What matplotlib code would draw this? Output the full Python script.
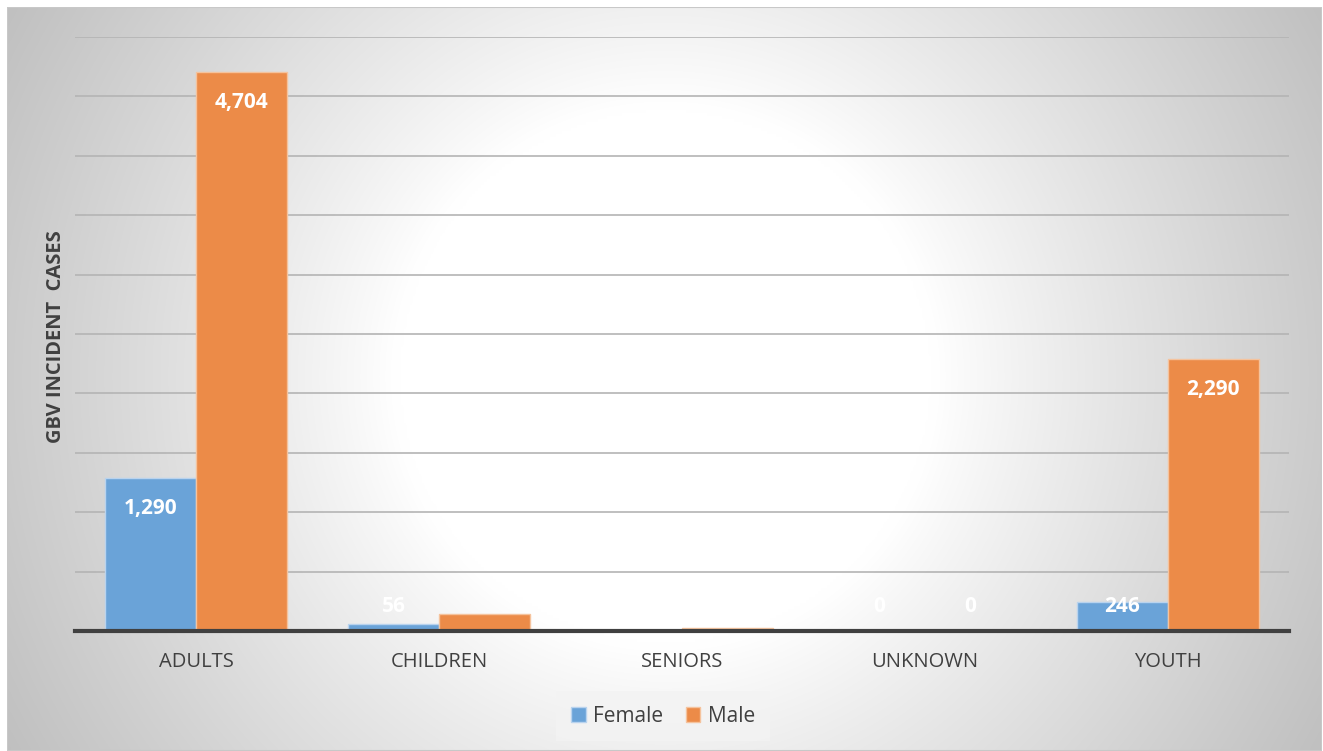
import numpy as np
import matplotlib
matplotlib.use("Agg")
import matplotlib.pyplot as plt

categories = ["ADULTS", "CHILDREN", "SENIORS", "UNKNOWN", "YOUTH"]
female = [1290, 56, 3, 0, 246]
male = [4704, 140, 25, 0, 2290]
female_labels = ["1,290", "56", "", "0", "246"]
male_labels = ["4,704", "", "", "0", "2,290"]

W, H = 1323, 751
fig = plt.figure(figsize=(W / 100, H / 100), dpi=100)
fig.patch.set_facecolor("white")

# background with radial gradient (circular in pixel space)
x0, y0 = 7, 7
bw_px, bh_px = W - 8 - x0 + 7, H - y0
bg = fig.add_axes([x0 / W, 0, (W - 1 - x0) / W, (H - y0) / H])
bg.set_axis_off()
px = np.arange(x0, W - 1, 3)
py = np.arange(y0, H, 3)
XX, YY = np.meshgrid(px, py)
d = np.sqrt((XX - 665) ** 2 + (YY - 375) ** 2)
t = np.clip((d - 270) / (760 - 270), 0, 1)
val = 1.0 - 0.25 * t ** 0.9
img = np.dstack([val, val, val])
bg.imshow(img, aspect="auto", extent=[0, 1, 0, 1], origin="upper", interpolation="bicubic")
bg.set_xlim(0, 1)
bg.set_ylim(0, 1)
bg.add_patch(plt.Rectangle((0, 0), 1, 1, fill=False, edgecolor="#c8c8c8", lw=1.5,
                           transform=bg.transAxes))

ax = fig.add_axes([75 / W, (H - 631) / H, (1289 - 75) / W, (631 - 37) / H])
ax.patch.set_alpha(0)
x = np.arange(len(categories))
bw = 0.375
fem_c = "#6aa3d8"
male_c = "#ec8b48"
b1 = ax.bar(x - bw / 2, female, bw, color=fem_c, edgecolor="#b9d3ee", lw=1, zorder=3)
b2 = ax.bar(x + bw / 2, male, bw, color=male_c, edgecolor="#f5c39d", lw=1, zorder=3)

ax.set_xlim(-0.5, len(categories) - 0.5)
ax.set_ylim(0, 5000)
ax.set_yticks(np.arange(500, 5001, 500))
ax.yaxis.grid(True, color="#b4b4b4", lw=1.2, zorder=0)
ax.set_yticklabels([])
ax.tick_params(axis="y", length=0)
ax.set_xticks(x)
ax.set_xticklabels(categories, fontsize=14.5, color="#404040", family="Open Sans")
ax.tick_params(axis="x", length=0, pad=15)
for s in ["top", "right", "left"]:
    ax.spines[s].set_visible(False)
ax.spines["bottom"].set_color("#404040")
ax.spines["bottom"].set_linewidth(3)
ax.spines["bottom"].set_zorder(4)

ax.set_ylabel("GBV INCIDENT  CASES", fontsize=14.5, fontweight="bold", color="#404040",
              family="Open Sans")
ax.yaxis.set_label_coords(-0.0075, 0.495)

for i in range(len(categories)):
    if female_labels[i]:
        ax.text(x[i] - bw / 2, max(female[i] - 255, 210), female_labels[i], ha="center",
                va="center", color="white", fontsize=15, fontweight="bold",
                family="Open Sans", zorder=5)
    if male_labels[i]:
        ax.text(x[i] + bw / 2, max(male[i] - 255, 210), male_labels[i], ha="center",
                va="center", color="white", fontsize=15, fontweight="bold",
                family="Open Sans", zorder=5)

leg = fig.legend(handles=[b1, b2], labels=["Female", "Male"], loc="center",
                 bbox_to_anchor=(663 / W, (H - 716) / H), ncol=2, frameon=True,
                 handlelength=0.7, handleheight=0.7, handletextpad=0.35,
                 columnspacing=1.1, prop={"family": "Open Sans", "size": 15})
leg.get_frame().set_facecolor("#f3f3f3")
leg.get_frame().set_edgecolor("none")
leg.get_frame().set_boxstyle("square", pad=0.3)
for t_ in leg.get_texts():
    t_.set_color("#404040")

fig.savefig("out.png", dpi=100)
